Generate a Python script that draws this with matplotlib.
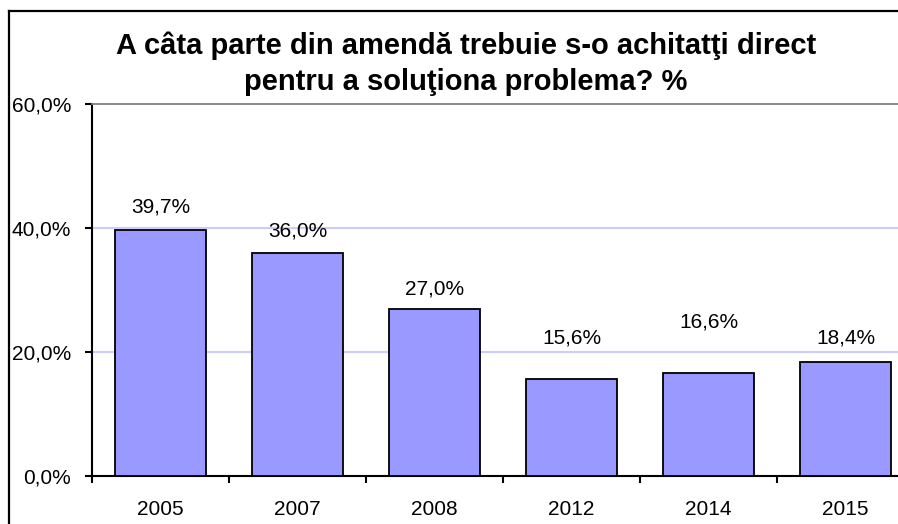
import matplotlib
matplotlib.use("Agg")
import matplotlib.pyplot as plt
import numpy as np
from matplotlib.lines import Line2D

plt.rcParams['font.family'] = ['Liberation Sans', 'DejaVu Sans']

# date
years = ['2005', '2007', '2008', '2012', '2014', '2015']
values = [39.7, 36.0, 27.0, 15.6, 16.6, 18.4]
y_ticks = [0, 20, 40, 60]
title = "A câta parte din amendă trebuie s-o achitatţi direct\npentru a soluţiona problema? %"

# etichetele au fost mutate manual in original, deci distanta difera (puncte)
label_offsets = [9.9, 9.2, 7.1, 22.9, 30.1, 10.7]

fig = plt.figure(figsize=(8.98, 5.24), dpi=100)
# zona graficului iese putin in dreapta, ca in original
ax = fig.add_axes([92 / 898, 48 / 524, 822 / 898, 372 / 524])

x = np.arange(len(years))
bars = ax.bar(x, values, width=0.66, color='#9999FF', edgecolor='black',
              linewidth=1.3, zorder=3)

for xi, v, off in zip(x, values, label_offsets):
    ax.annotate(f"{v:.1f}%".replace('.', ','), (xi, v), xytext=(0, off),
                textcoords='offset points', ha='center', va='bottom', fontsize=15)

ax.set_xlim(-0.5, len(years) - 0.5)
ax.set_ylim(0, 60)
ax.set_yticks(y_ticks)
ax.set_yticklabels([f"{t:.1f}%".replace('.', ',') for t in y_ticks], fontsize=15)

# tick-uri intre categorii, etichete la mijloc
ax.set_xticks(np.arange(-0.5, len(years) + 0.5, 1))
ax.set_xticklabels([])
ax.set_xticks(x, minor=True)
ax.set_xticklabels(years, minor=True, fontsize=15)
ax.tick_params(axis='x', which='major', length=5, width=1.5, direction='out')
ax.tick_params(axis='x', which='minor', length=0, pad=17)
ax.tick_params(axis='y', length=5, width=1.5, pad=10)

for t in [20, 40]:
    ax.axhline(t, color='#CCCCFF', linewidth=1.5, zorder=1)

ax.spines['right'].set_visible(False)
ax.spines['top'].set_color('#808080')
ax.spines['top'].set_linewidth(1.3)
ax.spines['left'].set_linewidth(1.5)
ax.spines['bottom'].set_linewidth(1.5)

fig.text(0.519, 0.94, title, ha='center', va='top', fontsize=21,
         fontweight='bold', linespacing=1.35)

# chenarul figurii (taiat in dreapta si jos)
fig.add_artist(Line2D([9 / 898, 9 / 898], [0, 1 - 11 / 524], color='black',
                      linewidth=1.6, transform=fig.transFigure))
fig.add_artist(Line2D([9 / 898, 1], [1 - 11 / 524, 1 - 11 / 524], color='black',
                      linewidth=1.6, transform=fig.transFigure))

fig.savefig('out.png', dpi=100)
